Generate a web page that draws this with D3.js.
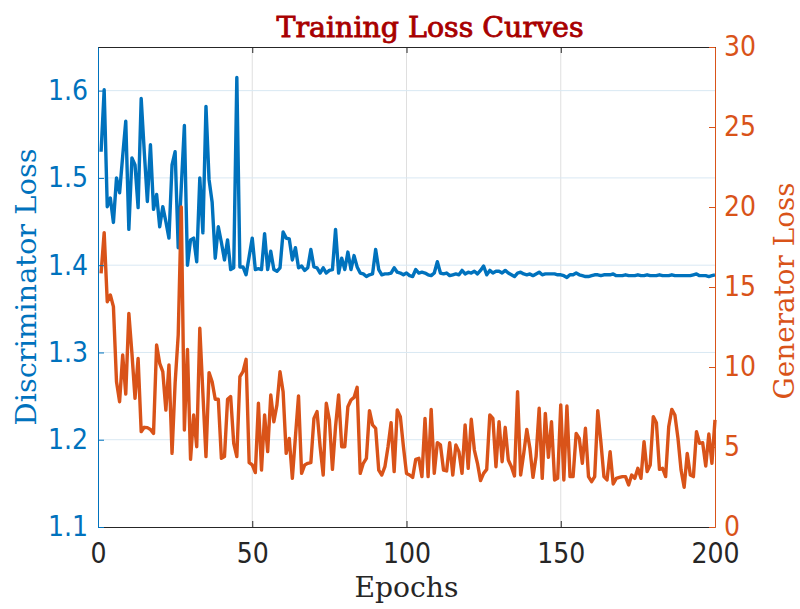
<!DOCTYPE html>
<html>
<head>
<meta charset="utf-8">
<script src="https://cdn.jsdelivr.net/npm/d3@7"></script>
<style>
  body { margin: 0; background: #fff; }
  svg { display: block; }
</style>
</head>
<body>
<div id="chart"></div>
<script>
(function () {

    var width = 800;
    var height = 609;
    var margin = {top: 47, right: 85, bottom: 82, left: 98};

    // epochs 1..200
    var epochs = d3.range(1, 201);
    var xTicks = [0, 50, 100, 150, 200];
    var leftTicks = [1.1, 1.2, 1.3, 1.4, 1.5, 1.6];
    var rightTicks = [0, 5, 10, 15, 20, 25, 30];

    var discLoss = [
        1.530, 1.601, 1.467, 1.477, 1.449, 1.500, 1.483, 1.525, 1.565, 1.441,
        1.523, 1.515, 1.466, 1.591, 1.530, 1.473, 1.538, 1.464, 1.481, 1.444,
        1.467, 1.450, 1.431, 1.515, 1.530, 1.420, 1.490, 1.560, 1.400, 1.429,
        1.431, 1.404, 1.500, 1.437, 1.582, 1.498, 1.472, 1.408, 1.444, 1.426,
        1.406, 1.429, 1.395, 1.397, 1.615, 1.398, 1.398, 1.389, 1.410, 1.431,
        1.395, 1.396, 1.395, 1.436, 1.395, 1.416, 1.395, 1.393, 1.397, 1.438,
        1.431, 1.430, 1.406, 1.420, 1.397, 1.399, 1.394, 1.397, 1.418, 1.398,
        1.397, 1.391, 1.397, 1.391, 1.394, 1.395, 1.441, 1.391, 1.408, 1.395,
        1.415, 1.395, 1.411, 1.398, 1.391, 1.390, 1.387, 1.389, 1.390, 1.418,
        1.395, 1.389, 1.390, 1.390, 1.391, 1.397, 1.392, 1.391, 1.389, 1.391,
        1.388, 1.387, 1.395, 1.391, 1.392, 1.391, 1.389, 1.388, 1.391, 1.404,
        1.391, 1.390, 1.391, 1.388, 1.389, 1.390, 1.389, 1.394, 1.390, 1.392,
        1.391, 1.393, 1.390, 1.394, 1.399, 1.389, 1.394, 1.391, 1.393, 1.393,
        1.391, 1.394, 1.391, 1.389, 1.387, 1.391, 1.392, 1.390, 1.389, 1.390,
        1.388, 1.390, 1.392, 1.389, 1.390, 1.390, 1.390, 1.390, 1.389, 1.389,
        1.388, 1.386, 1.389, 1.389, 1.391, 1.389, 1.388, 1.387, 1.387, 1.388,
        1.389, 1.389, 1.388, 1.389, 1.389, 1.389, 1.390, 1.388, 1.388, 1.388,
        1.389, 1.388, 1.388, 1.388, 1.389, 1.388, 1.388, 1.389, 1.388, 1.388,
        1.388, 1.389, 1.388, 1.388, 1.388, 1.389, 1.388, 1.388, 1.388, 1.388,
        1.388, 1.388, 1.389, 1.390, 1.388, 1.388, 1.388, 1.387, 1.388, 1.389
    ];

    var genLoss = [
        15.85, 18.4, 14.08, 14.5, 13.77, 9.08, 7.83, 10.75, 8.31, 13.35,
        10.85, 8.04, 10.54, 5.96, 6.23, 6.21, 6.1, 5.85, 11.38, 10.23,
        9.71, 7.31, 10.13, 4.6, 9.0, 12.0, 20.0, 6.06, 11.1, 4.23,
        7.0, 5.02, 12.42, 8.35, 4.4, 9.65, 9.08, 7.98, 7.98, 4.29,
        4.4, 7.98, 8.15, 5.23, 4.4, 9.4, 9.71, 10.48, 4.02, 3.88,
        3.4, 7.73, 3.56, 7.0, 4.71, 8.25, 6.58, 7.63, 9.71, 8.46,
        4.6, 5.54, 3.04, 5.65, 8.19, 3.35, 3.88, 3.98, 4.02, 6.79,
        7.21, 5.02, 3.25, 7.73, 6.69, 3.6, 6.27, 8.25, 5.02, 5.02,
        7.52, 7.94, 8.1, 8.73, 3.35, 3.98, 4.29, 7.27, 6.38, 6.17,
        3.56, 3.25, 3.77, 5.0, 6.52, 3.46, 7.31, 6.9, 5.02, 3.35,
        3.25, 3.1, 4.23, 4.29, 3.15, 6.79, 3.15, 7.35, 3.35, 5.27,
        5.13, 3.56, 3.5, 5.27, 3.25, 5.13, 4.71, 3.35, 6.38, 3.67,
        6.73, 4.81, 3.98, 2.9, 3.35, 3.6, 7.0, 6.79, 3.77, 6.58,
        4.08, 6.23, 4.19, 3.77, 3.19, 8.46, 3.25, 4.6, 6.1, 4.92,
        3.1, 4.4, 7.42, 3.04, 7.1, 4.35, 6.58, 2.94, 3.04, 7.63,
        2.94, 7.56, 3.15, 3.15, 5.85, 5.54, 3.98, 6.17, 3.15, 2.83,
        3.15, 7.27, 5.33, 3.15, 2.94, 4.71, 2.69, 3.04, 3.1, 3.15,
        3.15, 2.63, 3.25, 3.04, 3.67, 3.04, 5.33, 3.46, 3.88, 6.9,
        6.52, 3.6, 3.67, 3.15, 6.27, 7.35, 7.0, 5.54, 3.56, 2.48,
        4.6, 3.25, 3.15, 5.96, 5.23, 5.27, 3.81, 5.81, 3.98, 6.69
    ];

    var blue = "#0072BD";
    var orange = "#D95319";
    var dark = "#262626";
    var tickFont = "'DejaVu Sans Condensed', 'DejaVu Sans', sans-serif";
    var serifFont = "'DejaVu Serif Condensed', 'DejaVu Serif', serif";

    var svg = d3.select("#chart").append("svg")
        .attr("width", width)
        .attr("height", height);

    var x0 = margin.left, x1 = width - margin.right;
    var y0 = height - margin.bottom, y1 = margin.top;

    var x = d3.scaleLinear().domain([0, 200]).range([x0, x1]);
    var yL = d3.scaleLinear().domain([1.1, 1.65]).range([y0, y1]);
    var yR = d3.scaleLinear().domain([0, 30]).range([y0, y1]);

    // grid
    svg.append("g").selectAll("line").data(xTicks.slice(1, -1))
        .enter().append("line")
        .attr("x1", function (d) { return x(d); })
        .attr("x2", function (d) { return x(d); })
        .attr("y1", y0).attr("y2", y1)
        .attr("stroke", "#dfdfdf").attr("stroke-width", 1);
    svg.append("g").selectAll("line").data(leftTicks.slice(1))
        .enter().append("line")
        .attr("x1", x0).attr("x2", x1)
        .attr("y1", function (d) { return yL(d); })
        .attr("y2", function (d) { return yL(d); })
        .attr("stroke", "#d9e8f3").attr("stroke-width", 1);

    // lines
    var lineL = d3.line()
        .x(function (d, i) { return x(epochs[i]); })
        .y(function (d) { return yL(d); });
    var lineR = d3.line()
        .x(function (d, i) { return x(epochs[i]); })
        .y(function (d) { return yR(d); });

    svg.append("path").datum(discLoss)
        .attr("d", lineL)
        .attr("fill", "none").attr("stroke", blue)
        .attr("stroke-width", 3.4).attr("stroke-linejoin", "round");
    svg.append("path").datum(genLoss)
        .attr("d", lineR)
        .attr("fill", "none").attr("stroke", orange)
        .attr("stroke-width", 3.4).attr("stroke-linejoin", "round");

    // top border with inward ticks
    var top = svg.append("g").attr("transform", "translate(0," + y1 + ")")
        .call(d3.axisTop(x).tickValues(xTicks).tickSizeInner(-6).tickSizeOuter(0).tickFormat(""));
    top.select(".domain").attr("stroke", dark);
    top.selectAll(".tick line").attr("stroke", dark);

    // axes
    var bottom = svg.append("g").attr("transform", "translate(0," + y0 + ")")
        .call(d3.axisBottom(x).tickValues(xTicks).tickSizeInner(-6).tickSizeOuter(0).tickPadding(16));
    bottom.select(".domain").attr("stroke", dark);
    bottom.selectAll(".tick line").attr("stroke", dark);
    bottom.selectAll("text").attr("fill", dark)
        .style("font-family", tickFont).style("font-size", "28px");

    var left = svg.append("g").attr("transform", "translate(" + x0 + ",0)")
        .call(d3.axisLeft(yL).tickValues(leftTicks).tickSizeInner(-6).tickSizeOuter(0)
            .tickPadding(10).tickFormat(d3.format(".1f")));
    left.select(".domain").attr("stroke", blue);
    left.selectAll(".tick line").attr("stroke", blue);
    left.selectAll("text").attr("fill", blue)
        .style("font-family", tickFont).style("font-size", "28px");

    var right = svg.append("g").attr("transform", "translate(" + x1 + ",0)")
        .call(d3.axisRight(yR).tickValues(rightTicks).tickSizeInner(-6).tickSizeOuter(0).tickPadding(9));
    right.select(".domain").attr("stroke", orange);
    right.selectAll(".tick line").attr("stroke", orange);
    right.selectAll("text").attr("fill", orange)
        .style("font-family", tickFont).style("font-size", "28px");

    // labels
    svg.append("text")
        .attr("x", 430).attr("y", 37)
        .attr("text-anchor", "middle")
        .attr("textLength", 307).attr("lengthAdjust", "spacingAndGlyphs")
        .style("font-family", serifFont)
        .style("font-size", "28px").attr("fill", "#a80000")
        .attr("stroke", "#a80000").attr("stroke-width", 0.8)
        .text("Training Loss Curves");

    svg.append("text")
        .attr("x", (x0 + x1) / 2).attr("y", 597)
        .attr("text-anchor", "middle")
        .attr("textLength", 104).attr("lengthAdjust", "spacingAndGlyphs")
        .style("font-family", serifFont).style("font-size", "28px")
        .attr("fill", dark)
        .text("Epochs");

    svg.append("text")
        .attr("transform", "translate(36," + (y0 + y1) / 2 + ") rotate(-90)")
        .attr("text-anchor", "middle")
        .attr("textLength", 277).attr("lengthAdjust", "spacingAndGlyphs")
        .style("font-family", serifFont).style("font-size", "28px")
        .attr("fill", blue)
        .text("Discriminator Loss");

    svg.append("text")
        .attr("transform", "translate(794," + ((y0 + y1) / 2 + 4) + ") rotate(-90)")
        .attr("text-anchor", "middle")
        .attr("textLength", 217).attr("lengthAdjust", "spacingAndGlyphs")
        .style("font-family", serifFont).style("font-size", "28px")
        .attr("fill", orange)
        .text("Generator Loss");

})();
</script>
</body>
</html>
